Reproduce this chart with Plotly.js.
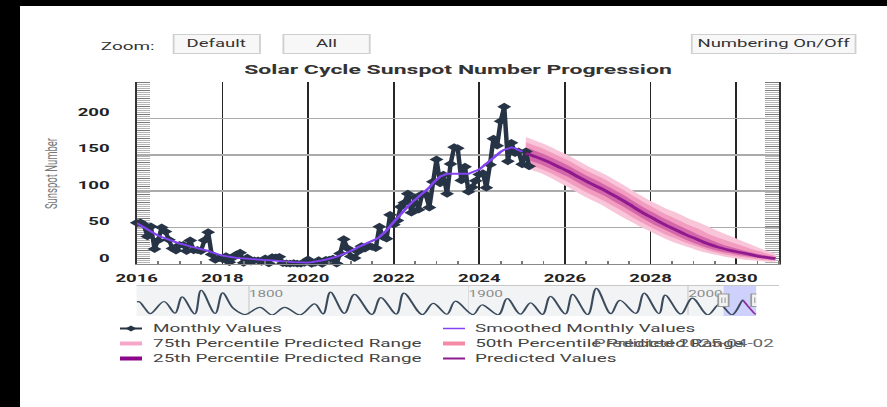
<!DOCTYPE html>
<html><head><meta charset="utf-8">
<script src="https://cdn.plot.ly/plotly-3.0.1.min.js"></script>
<style>
html,body{margin:0;padding:0;background:#fff;overflow:hidden;width:887px;height:407px;}
#chart{position:absolute;left:0;top:0;width:493px;height:407px;transform:scaleX(1.799188);transform-origin:0 0;}
.blk{position:absolute;background:#000;}
</style></head><body>
<div id="chart"></div>
<div class="blk" style="left:0;top:0;width:20px;height:407px"></div>
<div class="blk" style="left:0;top:0;width:887px;height:6px"></div>
<script>
// ---------------- DATA ----------------
const monthlyStart = '2016-01';
const monthlyValues = [
  56.6, 57.3, 54.0, 37.9, 51.5, 20.5, 32.4, 50.2, 44.6, 33.4, 21.4, 18.5,
  26.1, 26.4, 17.7, 32.3, 18.9, 19.2, 17.8, 32.6, 43.7, 13.2, 5.7, 8.2,
  6.8, 10.7, 2.5, 8.9, 13.1, 15.6, 1.6, 8.7, 3.3, 4.9, 4.9, 3.1,
  7.7, 0.8, 9.4, 9.1, 9.9, 1.2, 0.9, 0.5, 1.1, 0.4, 0.5, 1.5,
  6.2, 0.2, 1.5, 5.2, 0.2, 5.8, 6.1, 7.5, 0.6, 14.4, 34.0, 21.8,
  10.4, 8.2, 17.2, 24.5, 21.2, 25.0, 23.4, 22.0, 51.3, 37.4, 34.8, 67.5,
  54.0, 59.7, 78.5, 84.1, 96.5, 70.5, 91.4, 74.6, 96.0, 95.5, 77.6, 113.1,
  143.6, 110.9, 122.6, 96.4, 137.4, 160.5, 159.1, 114.8, 133.6, 99.4, 105.4, 114.2,
  123.0, 124.7, 104.9, 136.5, 172.1, 162.6, 196.2, 216.0, 141.1, 166.4, 152.5, 154.5,
  137.0, 154.6, 134.2
];
const smoothedStart = '2016-01';
const smoothedValues = [
  56, 53, 50, 47, 44, 41, 39, 37, 35, 33, 31, 29,
  28, 27, 25, 24, 23, 22, 21, 20, 18, 16, 14, 13,
  11.5, 10.5, 9.5, 9, 8.5, 8, 7.5, 7, 6.5, 6, 5.8, 5.6,
  5.4, 5.2, 5, 4.6, 4.2, 3.8, 3.4, 3, 2.6, 2.2, 1.9, 1.8,
  2, 2.5, 3, 4, 5, 6, 7, 8.5, 10, 12, 14, 16,
  18, 20, 23, 25, 27, 29, 31, 34, 37, 41, 46, 52,
  58, 63, 68, 73, 79, 84, 88, 92, 96, 100, 105, 111,
  116, 120, 122, 124, 124, 124, 123, 123, 123, 124, 126, 128,
  130, 134, 138, 142, 146, 150, 154, 157, 159, 160, 159, 157,
  154
];
const predDates = ['2025-02-01','2025-05-01','2025-08-01','2025-11-01','2026-02-01','2026-05-01','2026-08-01','2026-11-01',
  '2027-02-01','2027-05-01','2027-08-01','2027-11-01','2028-02-01','2028-05-01','2028-08-01','2028-11-01',
  '2029-02-01','2029-05-01','2029-08-01','2029-11-01','2030-02-01','2030-05-01','2030-08-01','2030-12-01'];
const predValues = [152,147,141,134,127,119,111,104,96,88,79,70,62,54,47,40,34,28,23,19,16,13,10,7.5];
const p25Upper = [160,155,149,142,135,127,119,112,104,96,87,78,70,62,55,48,41,35,29,24,20,16,13,9.5];
const p25Lower = [144,139,133,126,119,111,103,96,88,80,71,62,54,47,40,33,27,22,18,15,12,10,8,5.5];
const p50Upper = [167,162,156,149,142,134,126,119,111,103,94,85,77,69,62,55,49,42,36,31,26,21,17,11];
const p50Lower = [138,133,127,120,112,104,96,89,81,73,64,56,48,41,35,29,24,19,15,12,10,8,6,4.5];
const p75Upper = [174,169,163,156,149,141,133,126,118,110,101,92,84,77,71,64,58,52,45,39,33,27,21,14];
const p75Lower = [132,127,121,113,105,97,89,82,73,65,57,49,42,35,29,24,19,15,12,9,7,5,4,3];

// navigator (long-term smoothed history, cycle extrema read from the overview strip)
const navDates = ['1749-01-01','1750-03-01','1752-06-01','1755-03-01','1761-06-01','1766-06-01','1769-09-01','1775-06-01',
  '1778-05-01','1784-09-01','1788-02-01','1793-01-01','1798-04-01','1805-02-01','1810-08-01','1816-05-01','1823-05-01',
  '1829-12-01','1833-11-01','1837-03-01','1843-07-01','1848-02-01','1856-01-01','1860-02-01','1867-03-01','1870-08-01',
  '1879-01-01','1883-12-01','1890-03-01','1894-01-01','1902-01-01','1906-02-01','1913-07-01','1917-08-01','1923-08-01',
  '1928-04-01','1933-09-01','1937-04-01','1944-02-01','1947-05-01','1954-04-01','1958-03-01','1964-10-01','1968-11-01',
  '1976-03-01','1979-12-01','1986-09-01','1989-07-01','1996-08-01','2001-11-01','2008-12-01','2014-04-01','2019-12-01',
  '2024-10-01','2025-02-01'];
const navValues = [140,142,80,14,144,19,193,12,264,16,235,70,5,82,1,81,1,119,12,245,18,220,6,186,10,234,4,124,8,147,4,107,
  2,176,9,130,6,199,13,219,5,285,14,157,18,233,14,213,11,180,2,116,2,160,152];

const xTickFormat = '%Y';
const yTicks = [0,50,100,150,200];
const titleText = 'Solar Cycle Sunspot Number Progression';
const yTitleText = 'Sunspot Number';
const legendLabels = ['Monthly Values','Smoothed Monthly Values','75th Percentile Predicted Range',
  '50th Percentile Predicted Range','25th Percentile Predicted Range','Predicted Values'];
const buttonLabels = ['Default','All','Numbering On/Off'];
const predictedNote = 'Predicted 2025-04-02';

// ---------------- HELPERS ----------------
function monthSeq(start, n){
  let [y,m] = start.split('-').map(Number); const out=[];
  for(let i=0;i<n;i++){ out.push(y+'-'+String(m).padStart(2,'0')+'-01'); m++; if(m>12){m=1;y++;} }
  return out;
}
const S = 887/493;
const W0=493, H0=407, ML=76, MR=60, MT=82, MB=91;
const PW = W0-ML-MR, PH = H0-MT-MB;
const PX = xr => (xr/S - ML)/PW;        // reference-pixel x -> paper
const PY = yr => (H0 - MB - yr)/PH;     // reference-pixel y -> paper

const FONT = 'Roboto, "Liberation Sans", Arial, sans-serif';
const C = {
  monthly:'#263446', smooth:'#8443f2', pred:'#8e1a8e',
  f75:'#f9c5d9', f50:'#f29cc0', f25:'#d466aa',
  s75:'#f7a6c9', s50:'#f48aa6', s25:'#8b058b'
};

// ---------------- TRACES ----------------
const months = monthSeq(monthlyStart, monthlyValues.length);
const smMonths = monthSeq(smoothedStart, smoothedValues.length);
const band = (y, fill, color) => ({x:predDates, y:y, type:'scatter', mode:'lines', line:{width:0, shape:'spline'},
  fill: fill ? 'tonexty' : 'none', fillcolor: color, hoverinfo:'skip', showlegend:false});
const data = [
  band(p75Upper,false), band(p75Lower,true,C.f75),
  band(p50Upper,false), band(p50Lower,true,C.f50),
  band(p25Upper,false), band(p25Lower,true,C.f25),
  {x:months, y:monthlyValues, type:'scatter', mode:'lines+markers', name:legendLabels[0], cliponaxis:false,
   line:{color:C.monthly, width:2.5}, marker:{symbol:'diamond', size:6, color:C.monthly}},
  {x:smMonths, y:smoothedValues, type:'scatter', mode:'lines', name:legendLabels[1], line:{color:C.smooth, width:1.8}},
  {x:predDates, y:predValues, type:'scatter', mode:'lines', name:legendLabels[5], line:{color:C.pred, width:2.5, shape:'spline'}},
  {x:navDates, y:navValues, xaxis:'x2', yaxis:'y2', type:'scatter', mode:'lines', line:{color:'#3b4b5c', width:1.2, shape:'spline', smoothing:1}},
  {x:predDates, y:predValues, xaxis:'x2', yaxis:'y2', type:'scatter', mode:'lines', line:{color:'#8e2ea0', width:1.2}}
];

// ---------------- SHAPES ----------------
const shapes = [];
// hatched strips at both plot edges
function hatch(x0r,x1r,step,color){
  let p=''; for(let y=82.5; y<=263.5; y+=step){ p += `M${PX(x0r)},${PY(y)}L${PX(x1r)},${PY(y)}`; }
  return {type:'path', xref:'paper', yref:'paper', path:p, line:{color:color,width:1}, layer:'below'};
}
[[137,150],[765,779]].forEach(([a,b])=>{
  shapes.push(hatch(a,b,2,'#b4b4b4'));
  shapes.push(hatch(a,b,8,'#7a7a7a'));
});
// navigator background / selection
shapes.push({type:'rect', xref:'paper', yref:'paper', x0:PX(136.5), x1:PX(723), y0:PY(316), y1:PY(285), fillcolor:'#f1f3f4', line:{width:0}, layer:'below'});
shapes.push({type:'rect', xref:'x2', yref:'paper', x0:'2016-01-01', x1:'2031-01-01', y0:PY(316), y1:PY(285), fillcolor:'#cdd1fb', line:{width:0}, layer:'below'});
shapes.push({type:'line', xref:'paper', yref:'paper', x0:PX(136.5), x1:PX(779), y0:PY(285.5), y1:PY(285.5), line:{color:'#c8c8c8', width:1}});
['2016-01-01','2031-01-01'].forEach(d=>{
  shapes.push({type:'rect', xref:'x2', yref:'paper', xsizemode:'pixel', xanchor:d, x0:-2.9, x1:2.9, y0:PY(306.5), y1:PY(294), fillcolor:'#f2f2f2', line:{color:'#9a9a9a', width:1}});
  [-0.9,0.9].forEach(o=>shapes.push({type:'line', xref:'x2', yref:'paper', xsizemode:'pixel', xanchor:d, x0:o, x1:o, y0:PY(303), y1:PY(297.5), line:{color:'#9a9a9a', width:0.6}}));
});
// legend swatches
const rows=[328.5,343.5,358.5], col1=[120,142,150], col2=[443,465,472];
const sw = [
  {c:col1,r:0,color:C.monthly,w:2}, {c:col2,r:0,color:C.smooth,w:1.5},
  {c:col1,r:1,color:C.s75,w:4}, {c:col2,r:1,color:C.s50,w:4},
  {c:col1,r:2,color:C.s25,w:4}, {c:col2,r:2,color:C.pred,w:2}
];
sw.forEach(s=>shapes.push({type:'line', xref:'paper', yref:'paper', x0:PX(s.c[0]), x1:PX(s.c[1]), y0:PY(rows[s.r]), y1:PY(rows[s.r]), line:{color:s.color, width:s.w}}));
(function(){
  const cx=PX(131), cy=PY(rows[0]), dx=3/PW, dy=3/PH;
  shapes.push({type:'path', xref:'paper', yref:'paper', path:`M${cx},${cy+dy}L${cx+dx},${cy}L${cx},${cy-dy}L${cx-dx},${cy}Z`, fillcolor:C.monthly, line:{width:0}});
})();

// ---------------- ANNOTATIONS ----------------
const ann = [];
const lfont = {family:FONT, size:10.5, color:'#444'};
sw.forEach((s,i)=>ann.push({xref:'paper', yref:'paper', x:PX(s.c[2]), y:PY(rows[s.r]), xanchor:'left', yanchor:'middle', text:legendLabels[i], showarrow:false, font:lfont}));
ann.push({xref:'paper', yref:'paper', x:PX(778), y:PY(rows[1]), xanchor:'right', yanchor:'middle', text:predictedNote, showarrow:false, font:{family:FONT,size:10.5,color:'#666'}});
ann.push({xref:'paper', yref:'paper', x:PX(51), y:PY(172.7), textangle:-90, xanchor:'center', yanchor:'middle', text:yTitleText, showarrow:false, font:{family:FONT,size:9.5,color:'#777'}});
ann.push({xref:'paper', yref:'paper', x:PX(128), y:PY(46.5), xanchor:'center', yanchor:'middle', text:'Zoom:', showarrow:false, font:{family:FONT,size:10.5,color:'#333'}});
[[216,88],[326,88],[773,166]].forEach(([cx,w],i)=>ann.push({xref:'paper', yref:'paper', x:PX(cx), y:PY(44.3), xanchor:'center', yanchor:'middle',
  text:buttonLabels[i], showarrow:false, width:w/S-2, height:18, bgcolor:'#f7f7f7', bordercolor:'#cfcfcf', borderwidth:1, borderpad:0,
  font:{family:FONT,size:10.3,color:'#333'}}));

// ---------------- LAYOUT ----------------
const tickFont = {family:FONT, size:10.3, color:'#222', weight:700};
const layout = {
  width:W0, height:H0, margin:{l:ML, r:MR, t:MT, b:MB, pad:0},
  paper_bgcolor:'#fff', plot_bgcolor:'rgba(0,0,0,0)', showlegend:false,
  title:{text:titleText, x:458/887, xref:'container', y:1-70/407, yref:'container', xanchor:'center', yanchor:'middle',
    font:{family:FONT, size:12.8, color:'#333', weight:700}},
  xaxis:{type:'date', range:['2016-01-01','2031-01-01'], domain:[0,1], anchor:'y', tickformat:xTickFormat, dtick:'M24', tick0:'2016-01-01',
    showgrid:true, gridcolor:'#262626', gridwidth:1, showline:true, linecolor:'#8a8a8a', linewidth:1, zeroline:false, ticks:'',
    tickfont:tickFont, ticklabelstandoff:5,
    minor:{dtick:'M6', tick0:'2016-01-01', ticks:'inside', ticklen:3, tickcolor:'#777', tickwidth:1, showgrid:false}},
  yaxis:{range:[0,250], domain:[PY(264),1], anchor:'x', tickvals:yTicks, showgrid:true, gridcolor:'#ababab', gridwidth:1.5,
    showline:true, mirror:true, linecolor:'#333', linewidth:1, zeroline:false, ticks:'', tickfont:tickFont, ticklabelstandoff:12, ticklabelshift:-6},
  xaxis2:{type:'date', range:['1749-01-01','2031-01-01'], domain:[0,PX(756.4)], anchor:'y2', side:'top', dtick:'M1200', tick0:'1800-01-01',
    tickformat:'%Y', ticklabelposition:'inside right', showgrid:true, gridcolor:'#dcdcdc', gridwidth:1, showline:false, zeroline:false, ticks:'',
    tickfont:{family:FONT, size:8.5, color:'#8c8c8c'}},
  yaxis2:{range:[0,320], domain:[PY(315),PY(285)], anchor:'x2', showgrid:false, showticklabels:false, zeroline:false, showline:false, ticks:''},
  shapes:shapes, annotations:ann
};
Plotly.newPlot('chart', data, layout, {staticPlot:true, displayModeBar:false});
</script>
</body></html>
